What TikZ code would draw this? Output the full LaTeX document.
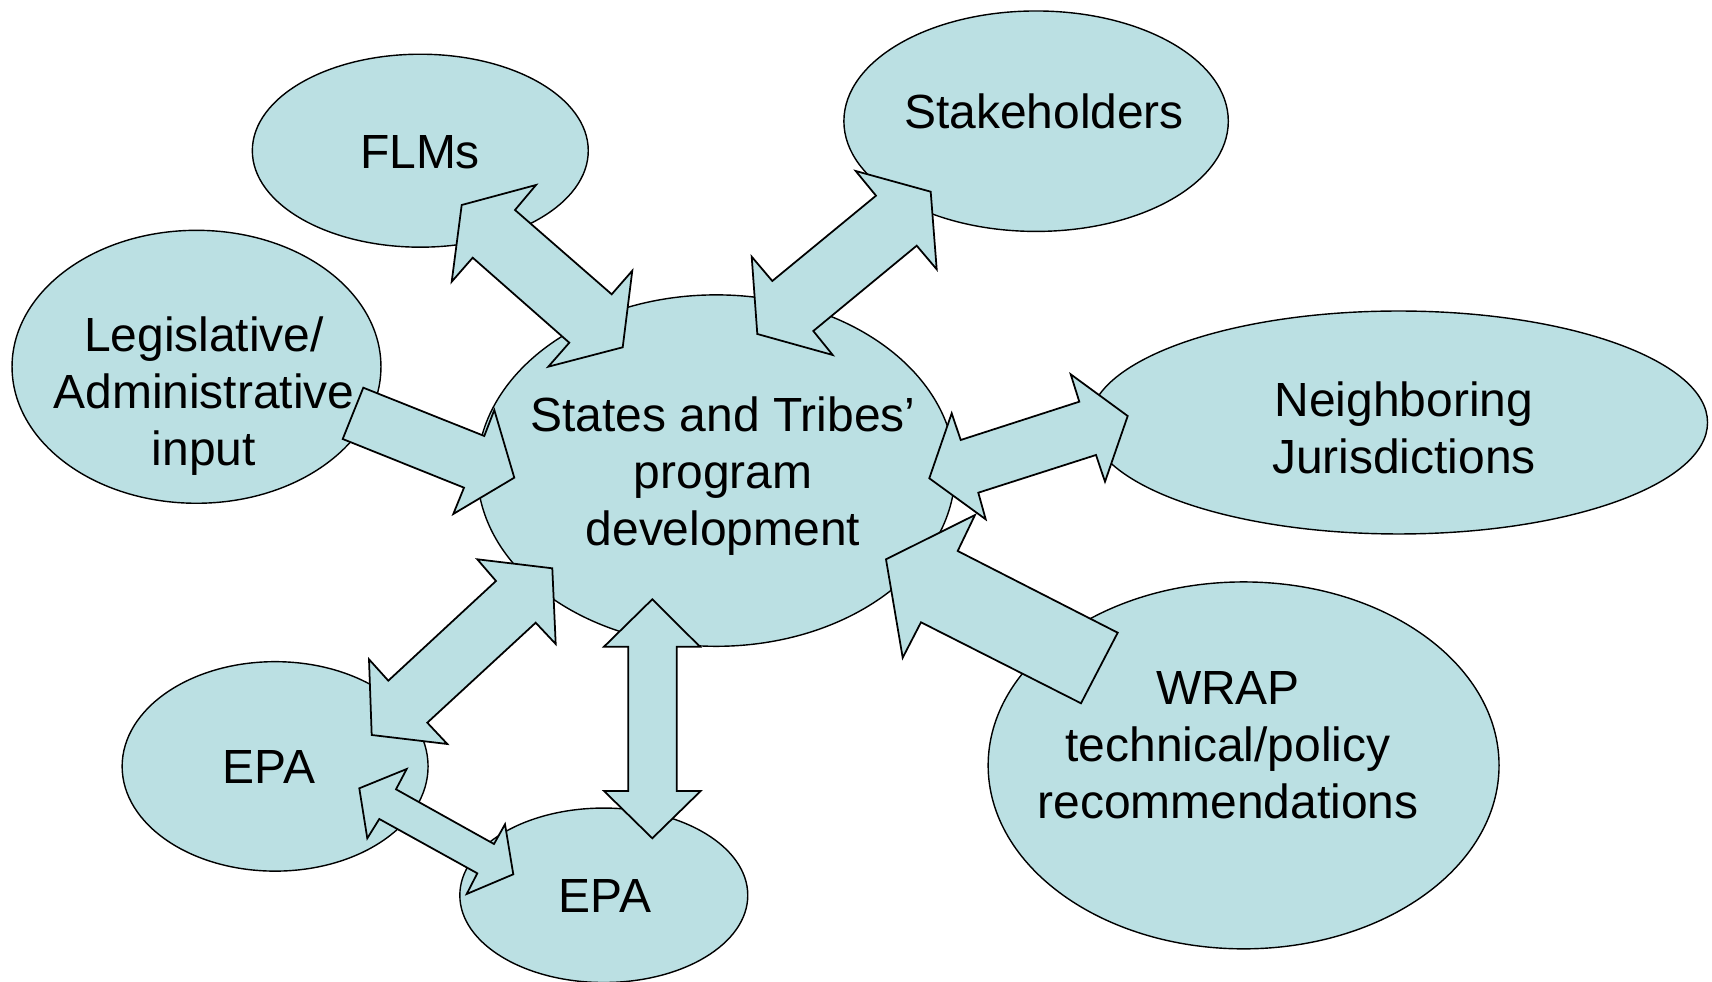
\documentclass[tikz,border=0pt]{standalone}
\usepackage{fontspec}
\setmainfont{Liberation Sans}
\usetikzlibrary{shapes.geometric}
\definecolor{bubble}{HTML}{BBE0E3}
\tikzset{
  oval/.style={ellipse, draw=black, line width=0.8pt, fill=bubble, inner sep=0pt, outer sep=0pt},
  lbl/.style={align=center, inner sep=0pt, font=\fontsize{27.3}{32.4}\selectfont},
  blockarrow/.style={draw=black, line width=1pt, fill=bubble, line join=miter}
}
\begin{document}
\begin{tikzpicture}[x=0.02cm,y=-0.02cm]
\useasboundingbox (0,0) rectangle (1712,982);
% ellipses
\node[oval, minimum width=6.72cm, minimum height=3.86cm] (flm) at (420.3,150.7) {};
\node[oval, minimum width=7.69cm, minimum height=4.41cm] (stk) at (1036.1,121.2) {};
\node[oval, minimum width=7.38cm, minimum height=5.46cm] (leg) at (196.5,366.8) {};
\node[oval, minimum width=9.56cm, minimum height=7.03cm] (ctr) at (716.2,470.6) {};
\node[oval, minimum width=12.36cm, minimum height=4.46cm] (nbr) at (1398.6,422.5) {};
\node[oval, minimum width=10.22cm, minimum height=7.34cm] (wrap) at (1243.6,765.4) {};
\node[oval, minimum width=6.12cm, minimum height=4.19cm] (epa1) at (275.1,766.4) {};
\node[oval, minimum width=5.76cm, minimum height=3.49cm] (epa2) at (603.8,895.3) {};
% arrows
% FLMs <-> centre
\draw[blockarrow] (515,210) -- (536,185) -- (461.7,205) -- (451.7,281.7) -- (472.7,257.7)
  -- (569.3,342.7) -- (548.3,366.7) -- (622.7,347.3) -- (632.3,270.7) -- (611.7,294.3) -- cycle;
% Stakeholders <-> centre
\draw[blockarrow] (876,195.7) -- (855.7,171) -- (930.7,191.7) -- (936.7,269.3) -- (916.7,245.7)
  -- (813.3,331) -- (832.7,355) -- (757.3,334) -- (751.7,256.7) -- (772.3,281) -- cycle;
% Legislative -> centre
\draw[blockarrow] (363.3,387.7) -- (484.3,436) -- (494.3,410) -- (514.3,477.7) -- (453.3,514)
  -- (464,487.7) -- (342.7,439) -- cycle;
% WRAP -> centre
\draw[blockarrow] (1117.7,632.7) -- (1081,703.3) -- (921,622.3) -- (902.7,657.7) -- (886,559.3)
  -- (975,515) -- (957.7,551) -- cycle;
% Neighboring <-> centre
\draw[blockarrow] (1079.3,401.7) -- (1070.7,374.3) -- (1127.7,416) -- (1105,481.7) -- (1096,455)
  -- (978.3,492.7) -- (985.7,519.3) -- (929.3,478.3) -- (951.7,413.3) -- (960.7,440) -- cycle;
% EPA (left) <-> centre
\draw[blockarrow] (496,581) -- (477.3,559.3) -- (552.3,568.3) -- (555.7,644) -- (535.7,622.7)
  -- (427.3,722.7) -- (447.3,744) -- (371.7,735) -- (369,659.3) -- (388.3,680.7) -- cycle;
% EPA <-> EPA
\draw[blockarrow] (396,789.3) -- (406.7,769) -- (359.3,788.3) -- (367.3,838.3) -- (379.3,819)
  -- (477.3,873.3) -- (466.7,894) -- (513.3,874.3) -- (505,824.3) -- (494,844) -- cycle;
% EPA (bottom) <-> centre
\draw[blockarrow] (652.3,599.3) -- (700,646.7) -- (676.7,646.7) -- (676.7,791) -- (700.7,791)
  -- (652.3,838.3) -- (604,791) -- (628.3,791) -- (628.3,646.7) -- (604,646.7) -- cycle;
% labels
\node[lbl] (flmT) at (420,152) {FLMs};
\node[lbl] (stkT) at (1044,111) {Stakeholders};
\node[lbl] (legT) at (204,396.4) {Legislative/\\Administrative\\input};
\node[lbl] (ctrT) at (723,476.5) {States and Tribes’\\program\\development};
\node[lbl] (nbrT) at (1404,428) {Neighboring\\Jurisdictions};
\node[lbl] (wrapT) at (1228,745) {WRAP\\technical/policy\\recommendations};
\node[lbl] (epa1T) at (269,767) {EPA};
\node[lbl] (epa2T) at (605,896) {EPA};
\end{tikzpicture}
\end{document}
